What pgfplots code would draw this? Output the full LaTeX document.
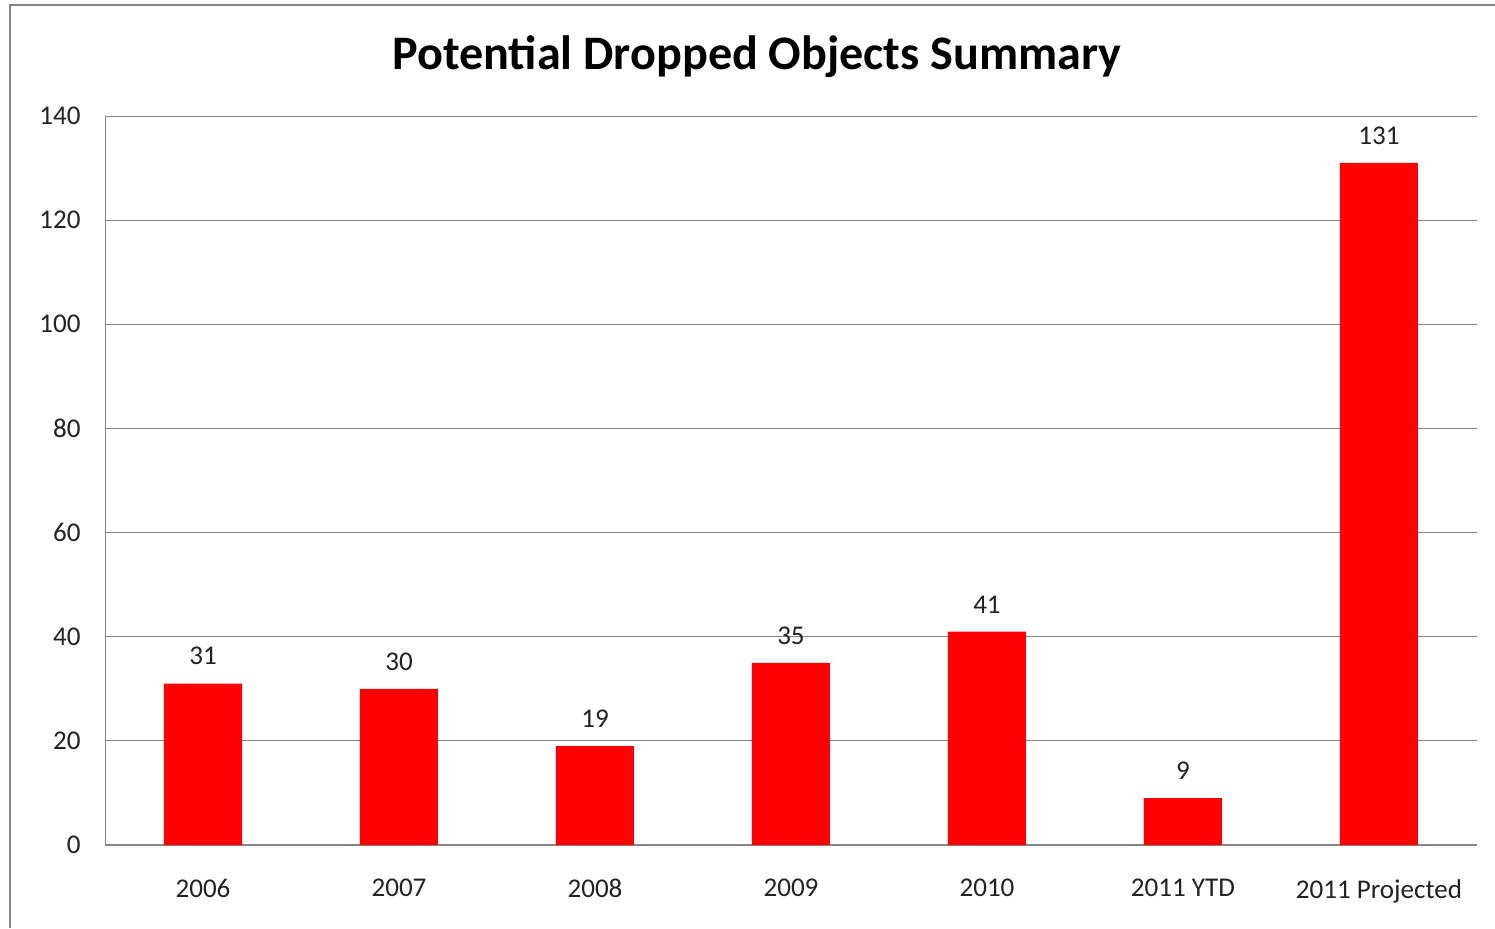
\documentclass[border=0pt]{standalone}
\usepackage{fontspec}
\setmainfont{Carlito}
\usepackage{pgfplots}
\pgfplotsset{compat=1.18}

\definecolor{gridgrey}{HTML}{868686}
\definecolor{framegrey}{HTML}{878787}
\definecolor{txt}{HTML}{222222}

\begin{document}
\begin{tikzpicture}
  % picture size 1495 x 928 px, 1 px = 0.1 mm
  \path[use as bounding box] (0,0) rectangle (149.5mm,92.8mm);
  \draw[framegrey, line width=0.2mm] (1mm,0) -- (1mm,92.3mm) -- (149.5mm,92.3mm);
  \begin{axis}[
      at={(10.5mm,8.3mm)}, anchor=south west,
      scale only axis,
      width=137.2mm, height=72.9mm,
      xmin=-0.5, xmax=6.5,
      ymin=0, ymax=140,
      ytick={0,20,...,140},
      xtick=data,
      xticklabels={2006,2007,2008,2009,2010,2011 YTD,2011 Projected},
      major tick length=0pt,
      ymajorgrids=true,
      grid style={gridgrey, line width=0.1mm},
      axis x line*=bottom,
      axis y line*=left,
      x axis line style={gridgrey, line width=0.2mm, -},
      y axis line style={gridgrey, line width=0.1mm, -},
      /pgf/number format/assume math mode=true,
      tick label style={font=\fontsize{7.7}{9}\selectfont, text=txt},
      yticklabel style={xshift=-1.2mm},
      xticklabel style={yshift=-2.2mm},
      title={\textbf{Potential Dropped Objects Summary}},
      title style={font=\fontsize{13.7}{16}\selectfont, at={(axis description cs:0.4752,1.052)}, anchor=center, yshift=0pt},
      ybar,
      bar width=7.8mm,
      nodes near coords,
      nodes near coords style={font=\fontsize{7.7}{9}\selectfont, text=txt, yshift=0.6mm},
    ]
    \addplot[fill=red, draw=none] coordinates {
      (0,31) (1,30) (2,19) (3,35) (4,41) (5,9) (6,131)
    };
  \end{axis}
\end{tikzpicture}
\end{document}
